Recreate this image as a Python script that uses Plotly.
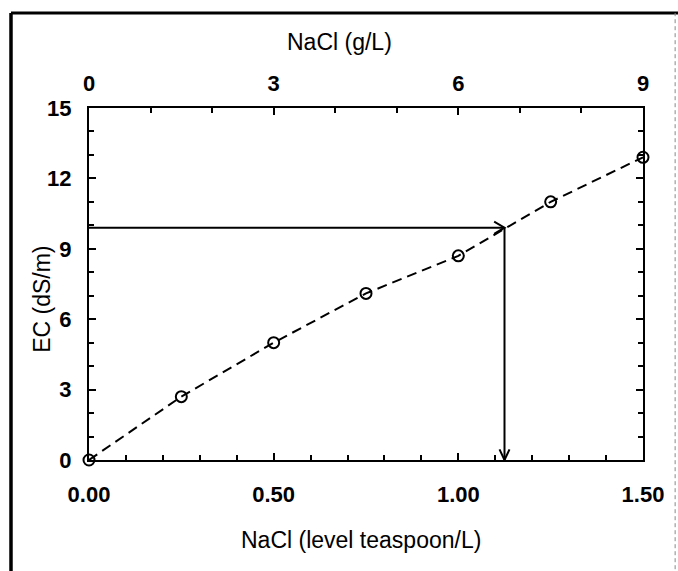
import plotly.graph_objects as go

# Data
nacl_tsp = [0.00, 0.25, 0.50, 0.75, 1.00, 1.25, 1.50]
ec_dsm = [0.0, 2.7, 5.0, 7.1, 8.7, 11.0, 12.9]
arrow_x = 1.125   # teaspoon/L
arrow_y = 9.9     # dS/m
x_ticks = [0.0, 0.5, 1.0, 1.5]
x_ticklabels = ["0.00", "0.50", "1.00", "1.50"]
top_ticks = [0, 3, 6, 9]
y_ticks = [0, 3, 6, 9, 12, 15]
x_title = "NaCl (level teaspoon/L)"
top_title = "NaCl (g/L)"
y_title = "EC (dS/m)"

FONT = "Liberation Sans, Arial, sans-serif"
tickfont = dict(family=FONT, size=22, color="black", weight="bold")
titlefont = dict(family=FONT, size=23, color="black")

fig = go.Figure()
fig.add_trace(go.Scatter(
    x=nacl_tsp, y=ec_dsm, mode="lines+markers",
    line=dict(color="black", width=2, dash="10px,6px"),
    marker=dict(symbol="circle-open", size=11, color="black", line=dict(width=2)),
    cliponaxis=False, showlegend=False,
))
# dummy trace for top axis
fig.add_trace(go.Scatter(x=[0, 9], y=[None, None], xaxis="x2", showlegend=False, hoverinfo="skip"))

# arrows (horizontal then vertical)
fig.add_shape(type="line", x0=0, y0=arrow_y, x1=arrow_x, y1=arrow_y, xref="x", yref="y",
              line=dict(color="black", width=2))
fig.add_shape(type="line", x0=arrow_x, y0=arrow_y, x1=arrow_x, y1=0, xref="x", yref="y",
              line=dict(color="black", width=2))
hx, hy = 0.028, 0.26
fig.add_shape(type="path", xref="x", yref="y",
              path=f"M {arrow_x-hx},{arrow_y+hy} L {arrow_x},{arrow_y} L {arrow_x-hx},{arrow_y-hy}",
              line=dict(color="black", width=2))
vx, vy = 0.0135, 0.45
fig.add_shape(type="path", xref="x", yref="y",
              path=f"M {arrow_x-vx},{vy} L {arrow_x},0 L {arrow_x+vx},{vy}",
              line=dict(color="black", width=2))

# outer border (left, top thick; right faint)
fig.add_shape(type="line", xref="paper", yref="paper", x0=-0.1408, x1=-0.1408, y0=-0.35, y1=1.27,
              line=dict(color="black", width=3.5))
fig.add_shape(type="line", xref="paper", yref="paper", x0=-0.1408, x1=1.07, y0=1.27, y1=1.27,
              line=dict(color="black", width=3))
fig.add_shape(type="line", xref="paper", yref="paper", x0=1.058, x1=1.058, y0=-0.35, y1=1.27,
              line=dict(color="#888888", width=1, dash="4px,3px"))

# axis titles
fig.add_annotation(text=top_title, xref="paper", yref="paper", x=0.453, y=1.1875,
                   xanchor="center", yanchor="middle", showarrow=False, font=titlefont)
fig.add_annotation(text=x_title, xref="paper", yref="paper", x=0.491, y=-0.227,
                   xanchor="center", yanchor="middle", showarrow=False, font=titlefont)
fig.add_annotation(text=y_title, xref="paper", yref="paper", x=-0.0848, y=0.455,
                   xanchor="center", yanchor="middle", textangle=-90, showarrow=False, font=titlefont)

fig.update_layout(
    width=678, height=571,
    margin=dict(l=89, r=35, t=108, b=111),
    paper_bgcolor="white", plot_bgcolor="white",
    xaxis=dict(
        range=[0, 1.5], tickvals=x_ticks, ticktext=x_ticklabels,
        ticks="inside", ticklen=7, tickwidth=1.5, tickcolor="black",
        minor=dict(dtick=0.1, tick0=0, ticks="inside", ticklen=5, tickwidth=1.5, tickcolor="black"),
        showline=True, linecolor="black", linewidth=2, showgrid=False, zeroline=False,
        tickfont=tickfont, ticklabelstandoff=14,
    ),
    xaxis2=dict(
        range=[0, 9], overlaying="x", side="top", tickvals=top_ticks,
        ticks="inside", ticklen=7, tickwidth=1.5, tickcolor="black",
        minor=dict(dtick=1, tick0=0, ticks="inside", ticklen=5, tickwidth=1.5, tickcolor="black"),
        showline=True, linecolor="black", linewidth=2, showgrid=False, zeroline=False,
        tickfont=tickfont, ticklabelstandoff=6,
    ),
    yaxis=dict(
        range=[0, 15], tickvals=y_ticks, mirror="ticks",
        ticks="inside", ticklen=7, tickwidth=1.5, tickcolor="black",
        minor=dict(dtick=1, tick0=0, ticks="inside", ticklen=5, tickwidth=1.5, tickcolor="black"),
        showline=True, linecolor="black", linewidth=2, showgrid=False, zeroline=False,
        tickfont=tickfont, ticklabelstandoff=11,
    ),
)

fig.write_html("out.html", post_script="document.body.style.margin='0px';",
               config={"displayModeBar": False})
